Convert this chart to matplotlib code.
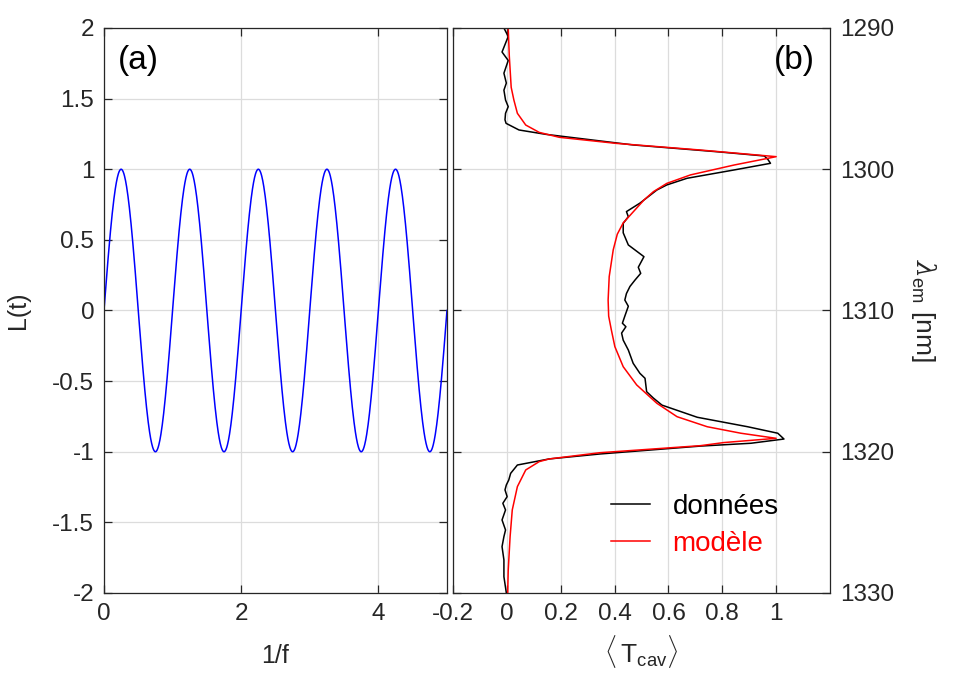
import numpy as np
import matplotlib.pyplot as plt

plt.rcParams['font.family'] = ['Liberation Sans', 'DejaVu Sans']
plt.rcParams['mathtext.fontset'] = 'custom'
plt.rcParams['mathtext.rm'] = 'Liberation Sans'
plt.rcParams['mathtext.it'] = 'DejaVu Serif:italic'

# (a) sinusoidal modulation
amplitude = 1.0
period = 1.0
t_max = 5.0

# (b) measured transmission vs emission wavelength
data_lam = [1290.0, 1290.6, 1291.7, 1292.3, 1293.2, 1293.9, 1294.4, 1295.1, 1295.57, 1296.04,
            1296.5, 1296.75, 1297.22, 1297.53, 1298.28, 1298.76, 1299.06, 1299.3, 1299.58, 1300.05,
            1300.64, 1301.11, 1301.47, 1302.4, 1303.0, 1303.36, 1303.83, 1304.5, 1305.36, 1306.19,
            1306.94, 1307.37, 1307.84, 1308.3, 1308.8, 1309.26, 1309.7, 1310.4, 1310.9, 1311.15,
            1311.6, 1312.1, 1312.8, 1313.74, 1314.45, 1314.8, 1315.75, 1316.2, 1316.7, 1317.56,
            1318.23, 1318.69, 1319.1, 1319.4, 1319.6, 1320.16, 1320.51, 1320.94, 1321.53, 1322.0,
            1322.35, 1322.7, 1323.18, 1323.65, 1324.12, 1324.83, 1325.54, 1326.01, 1326.72, 1327.66,
            1328.85, 1330.0]
data_T = [-0.011, 0.005, -0.018, 0.005, -0.011, -0.002, -0.011, -0.005, 0.005, -0.005,
          -0.007, -0.003, 0.045, 0.145, 0.469, 0.780, 0.956, 0.969, 0.979, 0.844,
          0.669, 0.594, 0.557, 0.494, 0.444, 0.451, 0.432, 0.432, 0.451, 0.509,
          0.488, 0.497, 0.476, 0.457, 0.444, 0.438, 0.451, 0.438, 0.429, 0.442,
          0.426, 0.432, 0.451, 0.469, 0.494, 0.513, 0.519, 0.544, 0.576, 0.707,
          0.894, 1.006, 1.029, 0.906, 0.719, 0.345, 0.157, 0.039, 0.014, 0.007,
          -0.002, -0.007, 0.001, -0.015, -0.005, -0.018, -0.005, -0.011, -0.018, -0.011,
          -0.011, -0.002]

# (b) model curve
model_lam = [1290.0, 1292.0, 1294.2, 1295.1, 1296.04, 1296.87, 1297.39, 1297.74, 1298.17, 1298.64,
             1299.11, 1299.7, 1300.4, 1301.0, 1301.59, 1302.18, 1303.0, 1303.8, 1304.6, 1305.7,
             1307.6, 1309.26, 1310.4, 1311.38, 1312.56, 1313.98, 1315.27, 1316.57, 1317.52, 1318.23,
             1318.69, 1319.05, 1319.35, 1319.57, 1320.07, 1320.51, 1320.7, 1321.29, 1322.47, 1324.12,
             1326.0, 1328.4, 1330.0]
model_T = [0.005, 0.009, 0.016, 0.026, 0.039, 0.070, 0.120, 0.195, 0.407, 0.719,
           1.000, 0.844, 0.682, 0.594, 0.544, 0.509, 0.470, 0.432, 0.410, 0.395,
           0.380, 0.376, 0.378, 0.388, 0.401, 0.432, 0.482, 0.557, 0.632, 0.744,
           0.869, 1.000, 0.806, 0.719, 0.345, 0.157, 0.120, 0.070, 0.039, 0.020,
           0.012, 0.005, 0.003]

t = np.linspace(0, t_max, 1001)
L = amplitude * np.sin(2 * np.pi * t / period)

fig = plt.figure(figsize=(9.6, 6.73), dpi=100)
ax1 = fig.add_axes([0.1083, 0.1189, 0.3573, 0.8395])
ax2 = fig.add_axes([0.4719, 0.1189, 0.3927, 0.8395])

dark = '#262626'
for ax in (ax1, ax2):
    ax.grid(True, color='#dcdcdc', linewidth=0.9)
    ax.set_axisbelow(True)
    ax.tick_params(direction='in', top=True, bottom=True, left=True, right=True,
                   labelsize=17.5, colors=dark, length=6, width=0.9, pad=7)
    for s in ax.spines.values():
        s.set_color(dark)
        s.set_linewidth(0.9)

ax1.plot(t, L, color='#0000ff', linewidth=1.1)
ax1.set_xlim(0, 5)
ax1.set_ylim(-2, 2)
ax1.set_xticks([0, 2, 4])
ax1.set_yticks(np.arange(-2, 2.01, 0.5))
ax1.set_yticklabels(['-2', '-1.5', '-1', '-0.5', '0', '0.5', '1', '1.5', '2'])
ax1.set_xlabel('1/f', fontsize=18, color=dark, labelpad=14)
ax1.set_ylabel('L(t)', fontsize=18, color=dark, labelpad=16)
ax1.text(0.04, 0.97, '(a)', transform=ax1.transAxes, fontsize=24, va='top', ha='left')

ax2.plot(data_T, data_lam, color='black', linewidth=1.1, label='données')
ax2.plot(model_T, model_lam, color='#ff0000', linewidth=1.1, label='modèle')
ax2.set_xlim(-0.2, 1.2)
ax2.set_ylim(1330, 1290)
ax2.set_xticks([-0.2, 0, 0.2, 0.4, 0.6, 0.8, 1.0])
ax2.set_xticklabels(['-0.2', '0', '0.2', '0.4', '0.6', '0.8', '1'])
ax2.set_yticks([1290, 1300, 1310, 1320, 1330])
ax2.tick_params(labelleft=False, labelright=True)
ax2.yaxis.set_label_position('right')
ax2.set_xlabel(r'$\langle\,\mathrm{T_{cav}}\rangle$', fontsize=19, color=dark, labelpad=6)
ax2.set_ylabel(r'$\lambda_{\mathrm{em}}$ [nm]', fontsize=19, color=dark, rotation=-90, labelpad=32)
ax2.text(0.96, 0.97, '(b)', transform=ax2.transAxes, fontsize=24, va='top', ha='right')

leg = ax2.legend(loc='lower right', bbox_to_anchor=(0.93, 0.02), frameon=False, fontsize=20,
                 handlelength=1.4, handletextpad=0.8, labelspacing=0.4)
for txt, ln in zip(leg.get_texts(), leg.get_lines()):
    txt.set_color(ln.get_color())

fig.savefig('out.png', dpi=100)
